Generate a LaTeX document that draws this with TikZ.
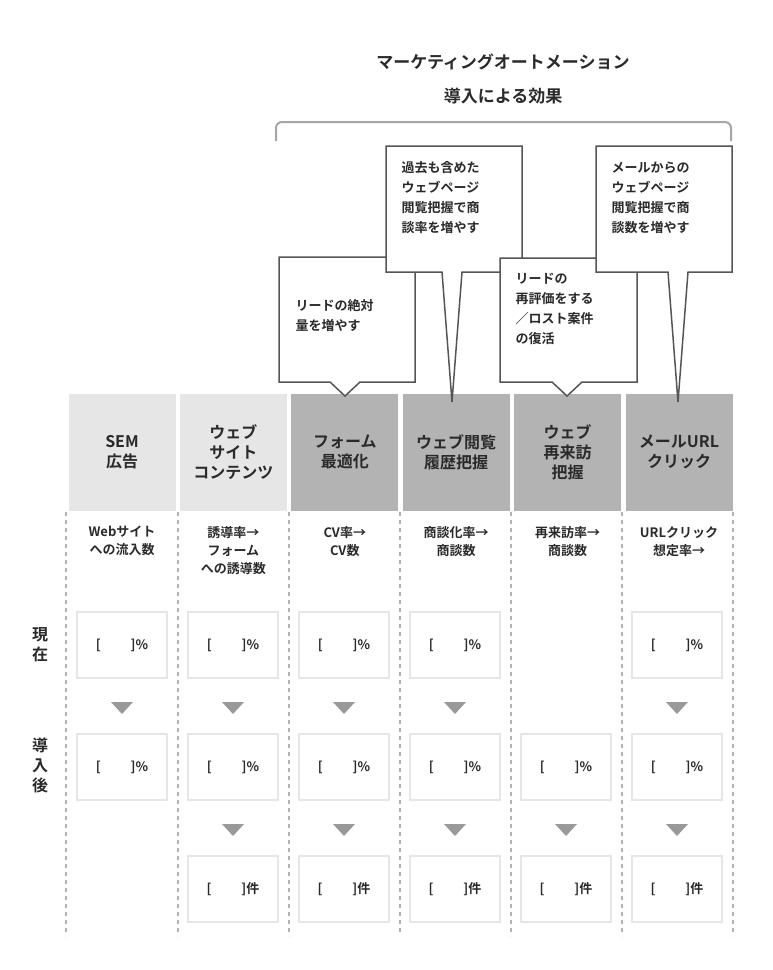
\documentclass[tikz,border=0pt]{standalone}
\usepackage{fontspec}
\setmainfont{Noto Sans CJK JP Bold}
\usetikzlibrary{positioning}
\definecolor{lightcell}{HTML}{E6E6E6}
\definecolor{darkcell}{HTML}{B3B3B3}
\definecolor{ink}{HTML}{2A2A2A}
\definecolor{framegray}{HTML}{555555}
\tikzstyle{head} = [minimum width=107pt, minimum height=117pt, inner sep=0pt, align=center, font=\fontsize{16}{20}\selectfont, text=ink]
\tikzstyle{label} = [align=center, font=\fontsize{13}{18}\selectfont, text=ink, anchor=north]
\tikzstyle{valbox} = [draw=lightcell, line width=2pt, fill=white, minimum width=90pt, minimum height=66pt, font=\fontsize{13}{15}\selectfont, text=ink]
\tikzstyle{tri} = [fill=gray!80]
\tikzstyle{callout} = [draw=framegray, line width=1.5pt, fill=white, line join=miter]
\tikzstyle{note} = [align=left, font=\fontsize{13}{20}\selectfont, text=ink, anchor=north west]
\tikzstyle{sep} = [draw=gray!60, line width=2.5pt, dash pattern=on 4pt off 4pt]
\newcommand{\pct}{[\hspace{30pt}]\%}
\newcommand{\ken}{[\hspace{30pt}]件}
\begin{document}
\begin{tikzpicture}[x=1pt,y=-1pt]
\useasboundingbox[fill=white] (0,0) rectangle (772,970);

%% TITLE
\node (title) [font=\fontsize{17}{34}\selectfont, align=center, text=ink] at (503,79) {マーケティングオートメーション\\導入による効果};
\draw [gray!70, line width=2pt, rounded corners=6pt] (276,141) -- (276,122) -- (731,122) -- (731,141);

%% HEADERS
\node (h1) [head, fill=lightcell] at (122,452) {SEM\\広告};
\node (h2) [head, fill=lightcell, right=4pt of h1] {ウェブ\\サイト\\コンテンツ};
\node (h3) [head, fill=darkcell, right=4pt of h2] {フォーム\\最適化};
\node (h4) [head, fill=darkcell, right=4pt of h3] {ウェブ閲覧\\履歴把握};
\node (h5) [head, fill=darkcell, right=4pt of h4] {ウェブ\\再来訪\\把握};
\node (h6) [head, fill=darkcell, right=4pt of h5] {メールURL\\クリック};

%% CALLOUTS
\draw [callout] (279,257) -- (415,257) -- (415,382) -- (360,382) -- (345,396) -- (330,382) -- (279,382) -- cycle;
\node (c1) [note] at (292,296) {リードの絶対\\量を増やす};
\draw [callout] (386,146) -- (522,146) -- (522,272) -- (462,272) -- (452,402) -- (442,272) -- (386,272) -- cycle;
\node (c2) [note] at (398,158) {過去も含めた\\ウェブページ\\閲覧把握で商\\談率を増やす};
\draw [callout] (500,258) -- (637,258) -- (637,382) -- (582,382) -- (567,396) -- (552,382) -- (500,382) -- cycle;
\node (c3) [note] at (512,270) {リードの\\再評価をする\\／ロスト案件\\の復活};
\draw [callout] (596,146) -- (732,146) -- (732,272) -- (688,272) -- (678,402) -- (668,272) -- (596,272) -- cycle;
\node (c4) [note] at (608,158) {メールからの\\ウェブページ\\閲覧把握で商\\談数を増やす};

%% SEPARATORS
\foreach \x in {66,178,289,400,511,622,733}
  \draw [sep] (\x,512) -- (\x,936);

%% ROW LABELS
\node (l1) [label, below=12pt of h1] {Webサイト\\への流入数};
\node (l2) [label, below=12pt of h2] {誘導率→\\フォーム\\への誘導数};
\node (l3) [label, below=12pt of h3] {CV率→\\CV数};
\node (l4) [label, below=12pt of h4] {商談化率→\\商談数};
\node (l5) [label, below=12pt of h5] {再来訪率→\\商談数};
\node (l6) [label, below=12pt of h6] {URLクリック\\想定率→};

\node (now) [font=\fontsize{16}{20}\selectfont, align=center, text=ink] at (40,645) {現\\在};
\node (after) [font=\fontsize{16}{20}\selectfont, align=center, text=ink] at (40,765) {導\\入\\後};

%% VALUE BOXES
\foreach \c/\x in {1/122,2/233,3/344,4/455,6/677}
  \node (a\c) [valbox] at (\x,645) {\pct};
\foreach \c/\x in {1/122,2/233,3/344,4/455,5/566,6/677}
  \node (b\c) [valbox] at (\x,767) {\pct};
\foreach \c/\x in {2/233,3/344,4/455,5/566,6/677}
  \node (k\c) [valbox] at (\x,889) {\ken};

%% TRIANGLES
\foreach \c in {1,2,3,4,6}
  \fill [tri] ([xshift=-11pt,yshift=-23pt]a\c.south) -- ([xshift=11pt,yshift=-23pt]a\c.south) -- ([yshift=-35pt]a\c.south) -- cycle;
\foreach \c in {2,3,4,5,6}
  \fill [tri] ([xshift=-11pt,yshift=-23pt]b\c.south) -- ([xshift=11pt,yshift=-23pt]b\c.south) -- ([yshift=-35pt]b\c.south) -- cycle;
\end{tikzpicture}
\end{document}
